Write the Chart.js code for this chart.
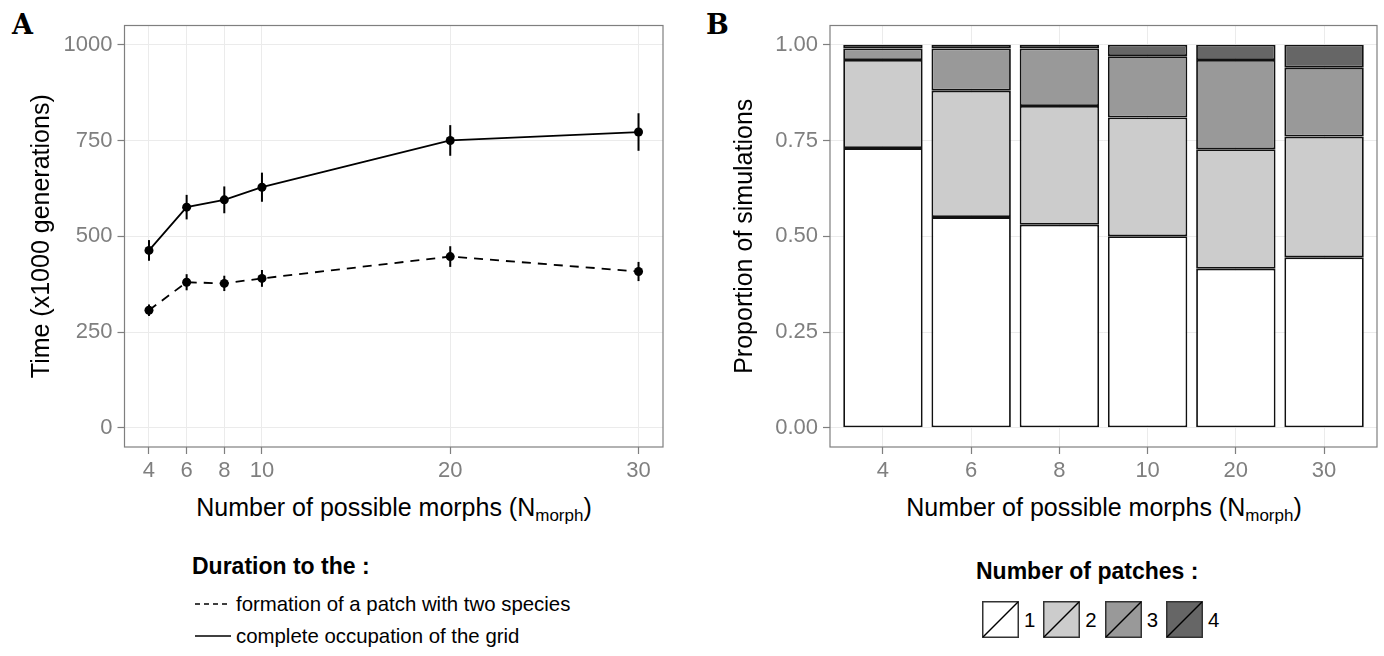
<!DOCTYPE html>
<html>
<head>
<meta charset="utf-8">
<script src="https://cdn.jsdelivr.net/npm/chart.js@4.4.1/dist/chart.umd.min.js"></script>
<style>
  body { margin: 0; width: 1384px; height: 656px; position: relative; overflow: hidden; background: #fff;
         font-family: "Liberation Sans", Arial, sans-serif; color: #000; }
  .box { position: absolute; }
  .tag { position: absolute; font-family: "DejaVu Serif", "Liberation Serif", serif; font-weight: bold; font-size: 27px; line-height: 30px; }
  .xtitle { position: absolute; font-size: 25px; line-height: 30px; white-space: nowrap; transform: translateX(-50%); }
  .xtitle sub { font-size: 17px; vertical-align: -5px; line-height: 0; }
  .legtitle { position: absolute; font-weight: bold; font-size: 23px; line-height: 28px; white-space: nowrap; }
  .legitem { position: absolute; font-size: 20.4px; line-height: 24px; white-space: nowrap; display: flex; align-items: center; }
  .legitem svg { margin-right: 4px; }
</style>
</head>
<body>
<div class="tag" style="left:12px;top:10px;">A</div>
<div class="tag" style="left:706px;top:10px;">B</div>

<div class="box" style="left:0;top:0;width:680px;height:490px;"><canvas id="chartA"></canvas></div>
<div class="box" style="left:690px;top:0;width:694px;height:490px;"><canvas id="chartB"></canvas></div>

<div class="xtitle" style="left:394px;top:492px;">Number of possible morphs (N<sub>morph</sub>)</div>
<div class="xtitle" style="left:1104px;top:492px;">Number of possible morphs (N<sub>morph</sub>)</div>

<div class="legtitle" style="left:192px;top:552px;">Duration to the :</div>
<div class="legitem" style="left:194px;top:592px;">
  <svg width="38" height="20"><line x1="1" y1="10" x2="37" y2="10" stroke="#000" stroke-width="1.6" stroke-dasharray="5 4"/></svg>formation of a patch with two species
</div>
<div class="legitem" style="left:194px;top:624px;">
  <svg width="38" height="20"><line x1="1" y1="10" x2="37" y2="10" stroke="#000" stroke-width="1.6"/></svg>complete occupation of the grid
</div>

<div class="legtitle" style="left:976px;top:557px;">Number of patches :</div>
<div id="legendB" class="legitem" style="left:982px;top:601px;"></div>

<script>
// Panel A: time (x1000 generations) vs number of possible morphs
const morphValues = [4, 6, 8, 10, 20, 30];
const occupationTime = [463, 576, 595, 628, 750, 772];
const occupationErr = [27, 32, 35, 38, 40, 49];
const patchTime = [307, 380, 377, 390, 447, 408];
const patchErr = [15, 21, 20, 22, 27, 25];
const timeTicks = [0, 250, 500, 750, 1000];

// Panel B: proportion of simulations by number of patches
const morphLabels = ['4', '6', '8', '10', '20', '30'];
const patchCounts = ['1', '2', '3', '4'];
const patches1 = [0.73, 0.55, 0.53, 0.50, 0.415, 0.445];
const patches2 = [0.23, 0.33, 0.31, 0.31, 0.312, 0.315];
const patches3 = [0.03, 0.11, 0.15, 0.16, 0.233, 0.18];
const patches4 = [0.01, 0.01, 0.01, 0.03, 0.04, 0.06];
const proportionTicks = [0, 0.25, 0.5, 0.75, 1];

const patchFills = ['#ffffff', '#cccccc', '#999999', '#666666'];
const FONT = '"Liberation Sans", Arial, sans-serif';
const GRID = '#ebebeb';
const AXIS_GREY = '#7f7f7f';

// draws the grey frame round the plotting panel, like theme_bw
const panelBorder = {
  id: 'panelBorder',
  afterDraw(chart) {
    const { ctx, chartArea: a } = chart;
    ctx.save();
    ctx.strokeStyle = AXIS_GREY;
    ctx.lineWidth = 1.2;
    ctx.strokeRect(a.left, a.top, a.right - a.left, a.bottom - a.top);
    ctx.restore();
  }
};

// vertical error bars from each dataset's "errors" list
const errorBars = {
  id: 'errorBars',
  afterDatasetsDraw(chart) {
    const { ctx, scales: { x, y } } = chart;
    ctx.save();
    ctx.strokeStyle = '#000';
    ctx.lineWidth = 2;
    chart.data.datasets.forEach(ds => {
      if (!ds.errors) return;
      ds.data.forEach((p, j) => {
        const px = x.getPixelForValue(p.x);
        ctx.beginPath();
        ctx.moveTo(px, y.getPixelForValue(p.y - ds.errors[j]));
        ctx.lineTo(px, y.getPixelForValue(p.y + ds.errors[j]));
        ctx.stroke();
      });
    });
    ctx.restore();
  }
};

function toPoints(ys) {
  return morphValues.map((v, i) => ({ x: v, y: ys[i] }));
}

new Chart(document.getElementById('chartA'), {
  type: 'line',
  data: {
    datasets: [
      {
        label: 'formation of a patch with two species',
        data: toPoints(patchTime),
        errors: patchErr,
        borderColor: '#000', backgroundColor: '#000',
        borderWidth: 1.8, borderDash: [9, 7],
        pointRadius: 4.5, pointBorderWidth: 0
      },
      {
        label: 'complete occupation of the grid',
        data: toPoints(occupationTime),
        errors: occupationErr,
        borderColor: '#000', backgroundColor: '#000',
        borderWidth: 1.8,
        pointRadius: 4.5, pointBorderWidth: 0
      }
    ]
  },
  options: {
    responsive: true, maintainAspectRatio: false, animation: false,
    layout: { padding: { top: 25.5, right: 17, left: 0, bottom: 0 } },
    plugins: { legend: { display: false }, tooltip: { enabled: false } },
    scales: {
      x: {
        type: 'linear', min: 2.7, max: 31.3,
        afterBuildTicks: s => { s.ticks = morphValues.map(v => ({ value: v })); },
        afterFit: s => { s.height = 43; },
        border: { display: false },
        grid: { color: GRID, lineWidth: 1, tickLength: 7, tickColor: AXIS_GREY, tickWidth: 1.2 },
        ticks: { color: AXIS_GREY, font: { size: 22, family: FONT }, padding: 4, maxRotation: 0, autoSkip: false,
                 callback: v => String(v) }
      },
      y: {
        min: -50, max: 1050,
        afterBuildTicks: s => { s.ticks = timeTicks.map(v => ({ value: v })); },
        afterFit: s => { s.width = 124.5; },
        border: { display: false },
        grid: { color: GRID, lineWidth: 1, tickLength: 7, tickColor: AXIS_GREY, tickWidth: 1.2 },
        ticks: { color: AXIS_GREY, font: { size: 22, family: FONT }, padding: 5, callback: v => String(v) },
        title: { display: true, text: 'Time (x1000 generations)', color: '#000',
                 font: { size: 25, family: FONT }, padding: { top: 27, bottom: 0 } }
      }
    }
  },
  plugins: [panelBorder, errorBars]
});

const patchSeries = [patches1, patches2, patches3, patches4];

new Chart(document.getElementById('chartB'), {
  type: 'bar',
  data: {
    datasets: patchSeries.map((vals, k) => ({
      label: patchCounts[k],
      data: vals.map((v, i) => ({ x: i + 1, y: v })),
      backgroundColor: patchFills[k],
      borderColor: '#111',
      borderWidth: 1.8,
      borderSkipped: false,
      barPercentage: 1,
      categoryPercentage: 0.9
    }))
  },
  options: {
    responsive: true, maintainAspectRatio: false, animation: false,
    layout: { padding: { top: 25.5, right: 7, left: 0, bottom: 0 } },
    plugins: { legend: { display: false }, tooltip: { enabled: false } },
    scales: {
      x: {
        type: 'linear', min: 0.4, max: 6.6, stacked: true, offset: false,
        afterBuildTicks: s => { s.ticks = morphLabels.map((_, i) => ({ value: i + 1 })); },
        afterFit: s => { s.height = 43; },
        border: { display: false },
        grid: { offset: false, color: GRID, lineWidth: 1, tickLength: 7, tickColor: AXIS_GREY, tickWidth: 1.2 },
        ticks: { color: AXIS_GREY, font: { size: 22, family: FONT }, padding: 4, maxRotation: 0, autoSkip: false,
                 callback: v => morphLabels[Math.round(v) - 1] }
      },
      y: {
        min: -0.05, max: 1.05, stacked: true,
        afterBuildTicks: s => { s.ticks = proportionTicks.map(v => ({ value: v })); },
        afterFit: s => { s.width = 140; },
        border: { display: false },
        grid: { color: GRID, lineWidth: 1, tickLength: 7, tickColor: AXIS_GREY, tickWidth: 1.2 },
        ticks: { color: AXIS_GREY, font: { size: 22, family: FONT }, padding: 5, callback: v => v.toFixed(2) },
        title: { display: true, text: 'Proportion of simulations', color: '#000',
                 font: { size: 25, family: FONT }, padding: { top: 40, bottom: 0 } }
      }
    }
  },
  plugins: [panelBorder]
});

// legend for panel B: filled keys with a diagonal stroke
const legendB = document.getElementById('legendB');
patchCounts.forEach((name, k) => {
  const key = document.createElementNS('http://www.w3.org/2000/svg', 'svg');
  key.setAttribute('width', '37');
  key.setAttribute('height', '37');
  key.style.marginRight = '5px';
  key.innerHTML = '<rect x="0.75" y="0.75" width="35.5" height="35.5" fill="' + patchFills[k] + '" stroke="#333" stroke-width="1.5"/>' +
                  '<line x1="1" y1="36" x2="36" y2="1" stroke="#000" stroke-width="1.5"/>';
  const label = document.createElement('span');
  label.textContent = name;
  label.style.marginRight = '8px';
  legendB.appendChild(key);
  legendB.appendChild(label);
});
</script>
</body>
</html>
